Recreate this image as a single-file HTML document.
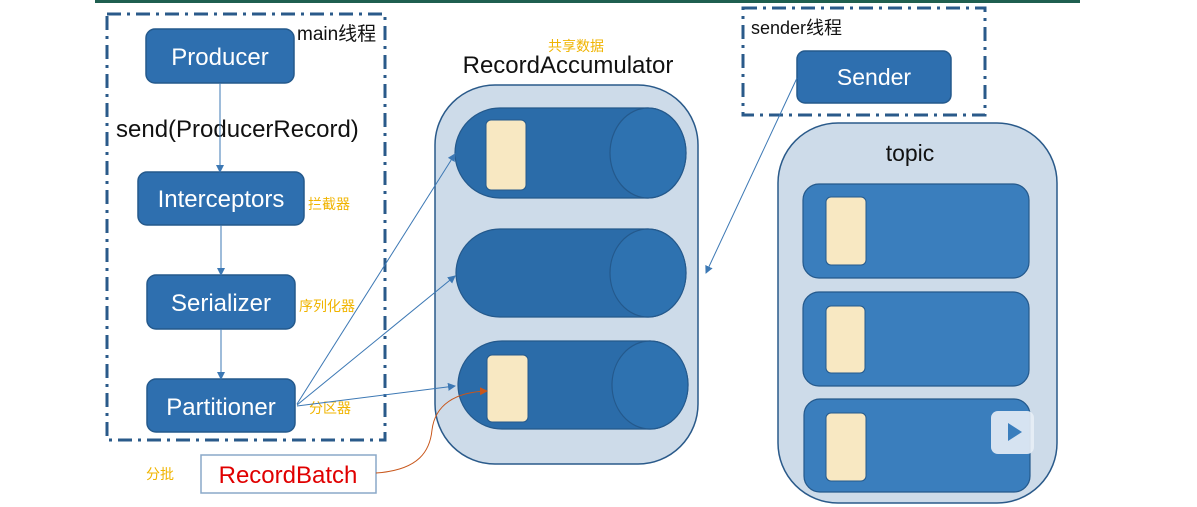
<!DOCTYPE html>
<html><head><meta charset="utf-8"><style>
html,body{margin:0;padding:0;background:#fff;}
svg{display:block;}
text{font-family:"Liberation Sans","Noto Sans CJK SC",sans-serif;}
</style></head><body>
<svg width="1197" height="507" viewBox="0 0 1197 507" xmlns="http://www.w3.org/2000/svg">
<defs>
<marker id="a" markerWidth="8" markerHeight="8" refX="7" refY="4" orient="auto" markerUnits="userSpaceOnUse"><path d="M0,0 L8,4 L0,8z" fill="#3c78b4"/></marker>
<marker id="o" markerWidth="8" markerHeight="8" refX="7" refY="4" orient="auto" markerUnits="userSpaceOnUse"><path d="M0,0 L8,4 L0,8z" fill="#c8561a"/></marker>
</defs>
<rect x="95" y="0" width="985" height="3" fill="#1f5f50"/>
<!-- main box -->
<rect x="107" y="14" width="278" height="426" fill="none" stroke="#2a5a8a" stroke-width="3" stroke-dasharray="14,6,3,6"/>
<text x="297" y="40" font-size="19" fill="#111">main线程</text>
<g fill="#2e6faf" stroke="#24598c" stroke-width="1.5">
<rect x="146" y="29" width="148" height="54" rx="9"/>
<rect x="138" y="172" width="166" height="53" rx="9"/>
<rect x="147" y="275" width="148" height="54" rx="9"/>
<rect x="147" y="379" width="148" height="53" rx="9"/>
</g>
<g fill="#fff" font-size="24" text-anchor="middle">
<text x="220" y="65">Producer</text>
<text x="221" y="207">Interceptors</text>
<text x="221" y="311">Serializer</text>
<text x="221" y="415">Partitioner</text>
</g>
<text x="116" y="137" font-size="24" fill="#111">send(ProducerRecord)</text>
<g fill="#f0b400" font-size="14">
<text x="308" y="209">拦截器</text>
<text x="299" y="311">序列化器</text>
<text x="309" y="413">分区器</text>
<text x="146" y="479">分批</text>
<text x="548" y="51">共享数据</text>
</g>
<rect x="201" y="455" width="175" height="38" fill="#fff" stroke="#8aa8c8" stroke-width="1.5"/>
<text x="288" y="483" font-size="24" fill="#e00000" text-anchor="middle">RecordBatch</text>
<!-- accumulator -->
<text x="568" y="73" font-size="24" fill="#111" text-anchor="middle">RecordAccumulator</text>
<rect x="435" y="85" width="263" height="379" rx="60" fill="#cddbe9" stroke="#2a5a8a" stroke-width="1.5"/>
<g stroke="#24598c" stroke-width="1.2">
<path d="M500,108 H648 A38,45 0 0 1 648,198 H500 A45,45 0 0 1 500,108z" fill="#2b6ca9"/>
<ellipse cx="648" cy="153" rx="38" ry="45" fill="#2e72b0"/>
<path d="M500,229 H648 A38,44 0 0 1 648,317 H500 A44,44 0 0 1 500,229z" fill="#2b6ca9"/>
<ellipse cx="648" cy="273" rx="38" ry="44" fill="#2e72b0"/>
<path d="M502,341 H650 A38,44 0 0 1 650,429 H502 A44,44 0 0 1 502,341z" fill="#2b6ca9"/>
<ellipse cx="650" cy="385" rx="38" ry="44" fill="#2e72b0"/>
</g>
<g fill="#f8e8c2" stroke="#24598c" stroke-width="1">
<rect x="486" y="120" width="40" height="70" rx="5"/>
<rect x="487" y="355" width="41" height="67" rx="5"/>
</g>
<!-- sender -->
<rect x="743" y="8" width="242" height="107" fill="none" stroke="#2a5a8a" stroke-width="3" stroke-dasharray="14,6,3,6"/>
<text x="751" y="34" font-size="18" fill="#111">sender线程</text>
<rect x="797" y="51" width="154" height="52" rx="8" fill="#2e6faf" stroke="#24598c" stroke-width="1.5"/>
<text x="874" y="85" font-size="23" fill="#fff" text-anchor="middle">Sender</text>
<!-- topic -->
<rect x="778" y="123" width="279" height="380" rx="60" fill="#cddbe9" stroke="#2a5a8a" stroke-width="1.5"/>
<text x="910" y="161" font-size="23" fill="#111" text-anchor="middle">topic</text>
<g fill="#3a7ebd" stroke="#24598c" stroke-width="1.2">
<rect x="803" y="184" width="226" height="94" rx="16"/>
<rect x="803" y="292" width="226" height="94" rx="16"/>
<rect x="804" y="399" width="226" height="93" rx="16"/>
</g>
<g fill="#f8e8c2" stroke="#24598c" stroke-width="1">
<rect x="826" y="197" width="40" height="68" rx="5"/>
<rect x="826" y="306" width="39" height="67" rx="5"/>
<rect x="826" y="413" width="40" height="68" rx="5"/>
</g>
<rect x="991" y="411" width="43" height="43" rx="7" fill="#e8eef6" opacity="0.9"/>
<path d="M1008,423 L1022,432 L1008,441z" fill="#3a7ebd"/>
<!-- connectors on top -->
<g stroke="#3c78b4" stroke-width="1" fill="none" marker-end="url(#a)">
<line x1="220" y1="83" x2="220" y2="172"/>
<line x1="221" y1="225" x2="221" y2="275"/>
<line x1="221" y1="329" x2="221" y2="379"/>
<line x1="297" y1="404" x2="455" y2="154"/>
<line x1="297" y1="405" x2="455" y2="276"/>
<line x1="297" y1="406" x2="455" y2="386"/>
<line x1="797" y1="78" x2="706" y2="273"/>
</g>
<path d="M376,473 C420,470 430,450 432,430 C435,405 455,392 487,391" fill="none" stroke="#c8561a" stroke-width="1" marker-end="url(#o)"/>
</svg>
</body></html>
